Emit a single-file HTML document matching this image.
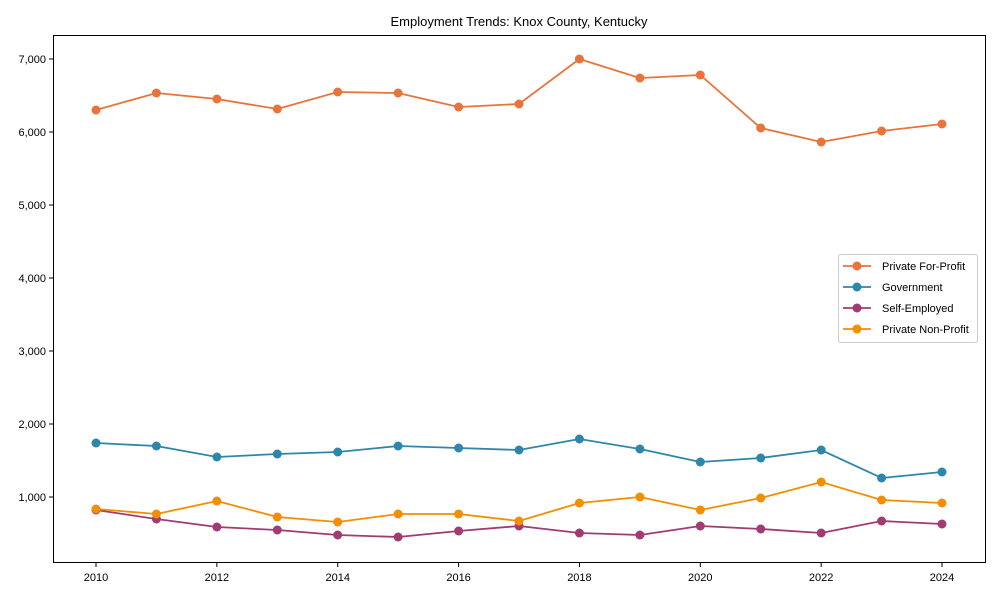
<!DOCTYPE html>
<html><head><meta charset="utf-8"><style>
body{margin:0;background:#fff;}
svg{display:block;font-family:"Liberation Sans",Arial,sans-serif;}
</style></head><body>
<svg id="s" width="1000" height="600" xmlns="http://www.w3.org/2000/svg">
<rect x="0" y="0" width="1000" height="600" fill="#fff"/>
<text x="519" y="26" font-size="13" text-anchor="middle" fill="#000">Employment Trends: Knox County, Kentucky</text>
<g id="g"></g>
<rect x="53.5" y="35.5" width="932" height="527" fill="none" stroke="#000" stroke-width="1"/>
</svg>
<script>
var g=document.getElementById('g'),h='';
function X(i){return 96+i*60.43;}
var yt=[[7000,59],[6000,132],[5000,205],[4000,278],[3000,351],[2000,424],[1000,497]];
yt.forEach(function(t){h+='<line x1="49" x2="53" y1="'+t[1]+'" y2="'+t[1]+'" stroke="#000"/><text x="46" y="'+(t[1]+4)+'" font-size="11" text-anchor="end">'+t[0].toLocaleString('en-US')+'</text>';});
for(var yr=2010;yr<=2024;yr+=2){var x=X(yr-2010);h+='<line x1="'+x+'" x2="'+x+'" y1="563" y2="567" stroke="#000"/><text x="'+x+'" y="581" font-size="11" text-anchor="middle">'+yr+'</text>';}
var S=[
['#E8743B',[110,93,99,109,92,93,107,104,59,78,75,128,142,131,124]],
['#2E86AB',[443,446,457,454,452,446,448,450,439,449,462,458,450,478,472]],
['#A23B72',[510,519,527,530,535,537,531,526,533,535,526,529,533,521,524]],
['#F18F01',[509,514,501,517,522,514,514,521,503,497,510,498,482,500,503]]];
S.forEach(function(s){var p=s[1].map(function(y,i){return X(i).toFixed(1)+','+y;}).join(' ');
h+='<polyline points="'+p+'" fill="none" stroke="'+s[0]+'" stroke-width="1.8"/>';
s[1].forEach(function(y,i){h+='<circle cx="'+X(i).toFixed(1)+'" cy="'+y+'" r="4.5" fill="'+s[0]+'"/>';});});
h+='<rect x="838.5" y="254.5" width="139" height="88" rx="2" fill="#fff" stroke="#ccc"/>';
var L=['Private For-Profit','Government','Self-Employed','Private Non-Profit'];
L.forEach(function(l,i){var y=266+i*21;h+='<line x1="843" x2="871" y1="'+y+'" y2="'+y+'" stroke="'+S[i][0]+'" stroke-width="1.8"/><circle cx="857" cy="'+y+'" r="4.5" fill="'+S[i][0]+'"/><text x="882" y="'+(y+4)+'" font-size="11">'+l+'</text>';});
g.innerHTML=h;
</script>
</body></html>
